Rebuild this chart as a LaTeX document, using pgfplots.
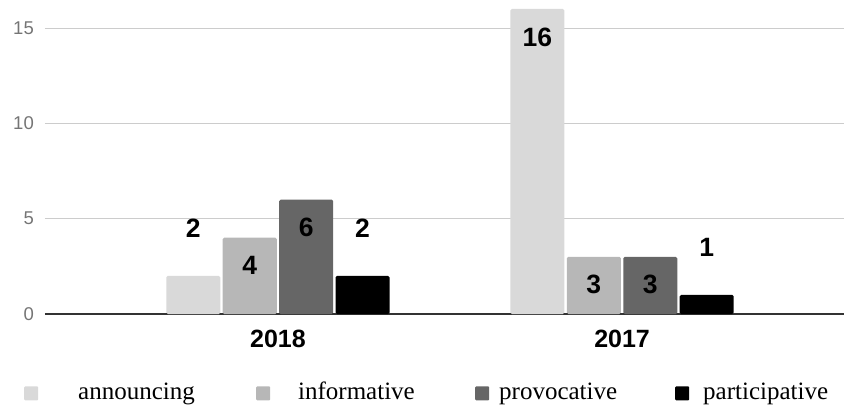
\documentclass[border=0pt]{standalone}
\usepackage{pgfplots}
\pgfplotsset{compat=1.18}
\usepackage{fontspec}
\setmainfont{Liberation Serif}
\setsansfont{Liberation Sans}
\definecolor{c1}{HTML}{D9D9D9}
\definecolor{c2}{HTML}{B7B7B7}
\definecolor{c3}{HTML}{666666}
\definecolor{c4}{HTML}{000000}
\definecolor{tickgray}{HTML}{757575}
\begin{document}
\begin{tikzpicture}
\begin{axis}[
  name=ax,
  scale only axis, width=799pt, height=314pt,
  xmin=-0.677, xmax=1.645, ymin=0, ymax=16.47,
  /pgf/number format/assume math mode=true,
  axis x line*=bottom, axis y line*=left,
  x axis line style={-, draw=black!80, line width=1.3pt},
  y axis line style={draw=none},
  ytick={0,5,10,15},
  xtick={0,1}, xticklabels={2018,2017},
  major tick length=0pt,
  ymajorgrids, grid style={draw=black!20, line width=1pt},
  yticklabel style={font=\sffamily\fontsize{18.5}{18.5}\selectfont, text=tickgray, inner sep=0pt, anchor=east, xshift=-11pt},
  xticklabel style={font=\sffamily\bfseries\fontsize{25}{25}\selectfont, inner sep=0pt, anchor=north, yshift=-16pt},
  every node near coord/.append style={font=\sffamily\bfseries\fontsize{26.5}{26.5}\selectfont, inner sep=0pt, text=black},
  legend columns=4,
  legend style={draw=none, fill=none, inner sep=0pt, column sep=0pt,
    nodes={inner sep=0pt, text depth=0pt}, cells={anchor=base west},
    font=\rmfamily\fontsize{25}{25}\selectfont,
    at={(axis description cs:-0.0263,-0.272)}, anchor=base west},
  legend image code/.code={\fill[#1, draw=none, rounded corners=1pt] (0pt,-1pt) rectangle (14pt,13pt);},
  legend entries={
    \makebox[218pt][l]{\hspace*{40pt}announcing},
    \makebox[205pt][l]{\hspace*{28pt}informative},
    \makebox[186pt][l]{\hspace*{10pt}provocative},
    \makebox[145pt][l]{\hspace*{14pt}participative}},
]
% announcing
\addplot[ybar, bar width=0.157, bar shift=-0.246, fill=c1, draw=none, rounded corners=1.5pt,
  nodes near coords, every node near coord/.append style={anchor=south, xshift=-84.6pt, yshift=38pt}]
  coordinates {(0,2)};
% informative
\addplot[ybar, bar width=0.157, bar shift=-0.082, fill=c2, draw=none, rounded corners=1.5pt,
  nodes near coords, every node near coord/.append style={anchor=center, xshift=-28.2pt, yshift=-28pt}]
  coordinates {(0,4) (1,3)};
% provocative
\addplot[ybar, bar width=0.157, bar shift=0.082, fill=c3, draw=none, rounded corners=1.5pt,
  nodes near coords, every node near coord/.append style={anchor=center, xshift=28.2pt, yshift=-28pt}]
  coordinates {(0,6) (1,3)};
% participative
\addplot[ybar, bar width=0.157, bar shift=0.246, fill=c4, draw=none, rounded corners=1.5pt,
  nodes near coords, every node near coord/.append style={anchor=south, xshift=84.6pt, yshift=38pt}]
  coordinates {(0,2) (1,1)};
% announcing 2017 (label inside)
\addplot[ybar, bar width=0.157, bar shift=-0.246, fill=c1, draw=none, rounded corners=1.5pt, forget plot,
  nodes near coords, every node near coord/.append style={anchor=center, xshift=-84.6pt, yshift=-28pt}]
  coordinates {(1,16)};
\end{axis}
\pgfresetboundingbox
\path ([xshift=-45pt,yshift=-91pt]ax.south west) rectangle (ax.north east);
\end{tikzpicture}
\end{document}
